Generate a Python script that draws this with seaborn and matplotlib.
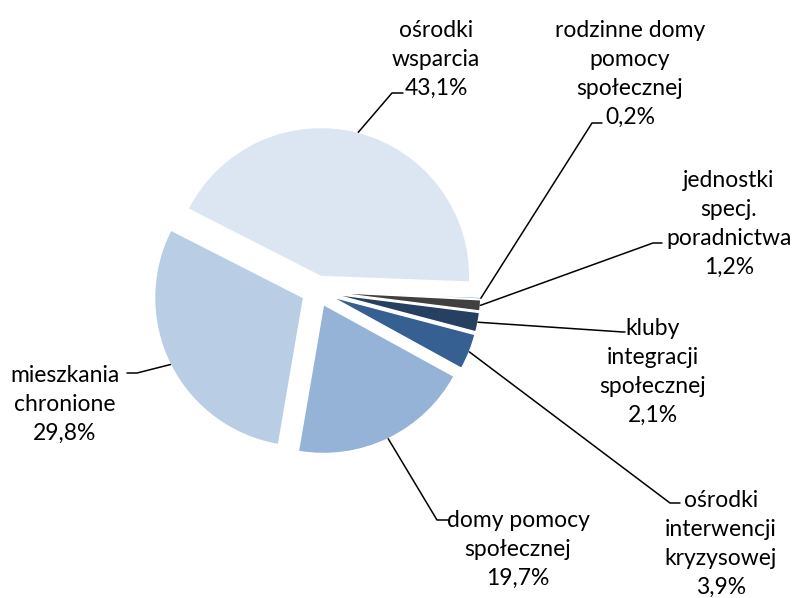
import numpy as np
import matplotlib.pyplot as plt
import seaborn as sns

# data
categories = ["ośrodki\nwsparcia", "rodzinne domy\npomocy\nspołecznej",
              "jednostki\nspecj.\nporadnictwa", "kluby\nintegracji\nspołecznej",
              "ośrodki\ninterwencji\nkryzysowej", "domy pomocy\nspołecznej",
              "mieszkania\nchronione"]
shares = [43.1, 0.2, 1.2, 2.1, 3.9, 19.7, 29.8]
colors = ["#DCE6F2", "#558ED5", "#404040", "#254061", "#376092", "#95B3D7", "#B9CDE5"]

# layout (pixel coords, y from top)
W, H = 797, 598
center_px = (317, 291)
radius_px = 149
explode_px = 15
# elbow of leader line, end of horizontal stub, text top-centre
elbows = [(392, 93), (592, 123), (653, 243), (623, 332), (670, 503), (437, 520), (137, 373)]
stubs = [(403, 93), (602, 123), (662, 243), (625, 332), (680, 503), (448, 520), (127, 373)]
text_pos = [(436, 20), (630, 20), (729, 170), (653, 318), (721, 490), (518, 510), (65, 365)]

sns.set_theme(style="white")
plt.rcParams['font.family'] = ['Lato', 'DejaVu Sans']

fig = plt.figure(figsize=(W / 100, H / 100), dpi=100)
ax = fig.add_axes([0, 0, 1, 1])

wedges, _ = ax.pie(shares, colors=colors, startangle=153, counterclock=False,
                   explode=[explode_px] * len(shares), radius=radius_px,
                   center=(center_px[0], H - center_px[1]),
                   wedgeprops=dict(edgecolor="white", linewidth=1.0))
ax.set_xlim(0, W)
ax.set_ylim(0, H)
ax.set_aspect("equal")
ax.axis("off")

for i, w in enumerate(wedges):
    mid = np.deg2rad((w.theta1 + w.theta2) / 2)
    cx, cy = w.center
    px = cx + w.r * np.cos(mid)
    py = cy + w.r * np.sin(mid)
    ex, ey = elbows[i]
    sx, sy = stubs[i]
    ax.plot([px, ex, sx], [py, H - ey, H - sy], color="black", lw=1.1)
    pct = f"{shares[i]:.1f}%".replace(".", ",")
    tx, ty = text_pos[i]
    ax.text(tx, H - ty, f"{categories[i]}\n{pct}", ha="center", va="top",
            fontsize=16.5, linespacing=1.47, color="black")

fig.savefig("out.png", dpi=100)
plt.close(fig)
